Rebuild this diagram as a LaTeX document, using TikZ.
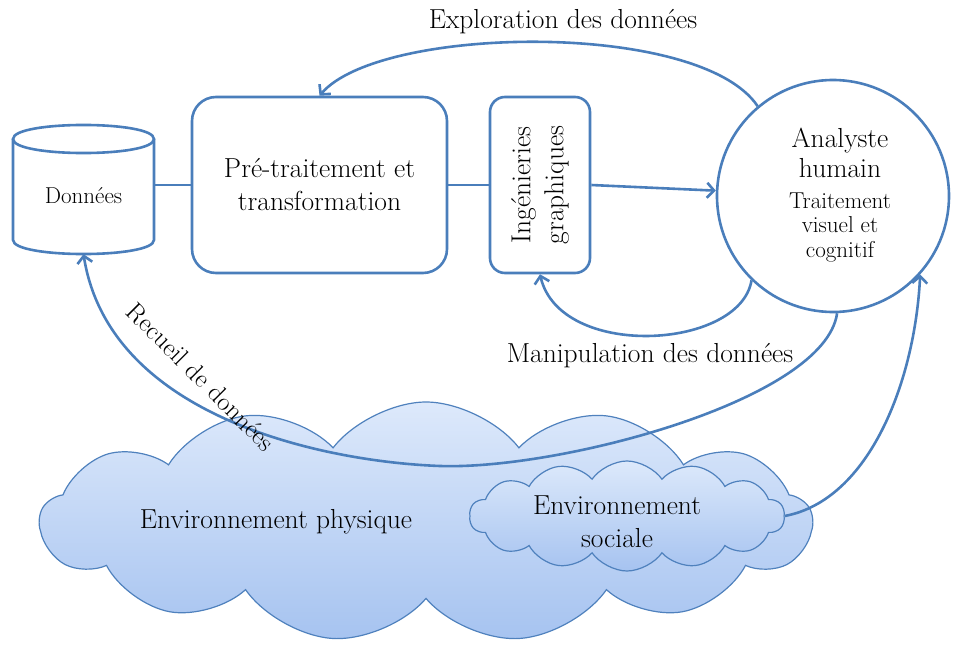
\documentclass[tikz,border=0pt]{standalone}
\usepackage{fontspec}
\usetikzlibrary{shapes.symbols,arrows.meta}
\definecolor{lineblue}{HTML}{4A7EBB}
\definecolor{cloudtop}{HTML}{DDE9FB}
\definecolor{cloudbot}{HTML}{A6C3F0}
\definecolor{cloudline}{HTML}{4F81BD}
\newcommand\mainfs{\fontsize{27.5}{33}\selectfont}
\newcommand\smallfs{\fontsize{23}{26}\selectfont}
\begin{document}
\begin{tikzpicture}[x=1pt,y=-1pt,
  conn/.style={draw=lineblue, line width=2.6pt},
  arr/.style={conn, -{Straight Barb[length=7pt,width=15pt]}},
  boxst/.style={draw=lineblue, line width=2.6pt, fill=white, align=center, font=\mainfs, inner sep=0pt},
  cloudst/.style={cloud, cloud ignores aspect, draw=cloudline, line width=1.2pt, top color=cloudtop, bottom color=cloudbot, inner sep=0pt},
  lbl/.style={font=\mainfs, inner sep=0pt, align=center},
  circlbl/.style={inner sep=0pt, anchor=base}]
\useasboundingbox (0,0) rectangle (953,650);

% clouds
\node[cloudst, cloud puffs=13, cloud puff arc=105, minimum width=772pt, minimum height=240pt] (phy) at (426,522) {};
\node[cloudst, cloud puffs=14, cloud puff arc=110, minimum width=315pt, minimum height=110pt] (soc) at (627,516) {};
\node[lbl] (lphy) at (276,522) {Environnement physique};
\node[lbl] (lsoc) at (617,522) {Environnement\\sociale};

% cylinder
\node[inner sep=0pt, minimum width=141pt, minimum height=116pt] (db) at (83.5,196) {};
\fill[white] (13,139) -- (13,240) .. controls (13,258.7) and (154,258.7) .. (154,240) -- (154,139) -- cycle;
\draw[conn] (13,139) -- (13,240) .. controls (13,258.7) and (154,258.7) .. (154,240) -- (154,139);
\draw[conn, fill=white] (13,139) .. controls (13,120.3) and (154,120.3) .. (154,139) .. controls (154,157.7) and (13,157.7) .. (13,139) -- cycle;
\node[font=\fontsize{23}{27}\selectfont] (dbt) at (db.center) {Données};

% boxes
\node[boxst, rounded corners=24pt, minimum width=255pt, minimum height=176pt] (pre) at (319.5,185) {Pré-traitement et\\transformation};
\node[boxst, rounded corners=15pt, minimum width=100pt, minimum height=176pt] (ing) at (540,185) {};
\node[lbl, rotate=90] (ingt) at (ing.center) {Ingénieries\\graphiques};
\node[draw=lineblue, line width=2.6pt, circle, fill=white, minimum size=232pt, inner sep=0pt] (circ) at (833,196) {};
\node[circlbl, font=\mainfs] (c1) at (840,148) {Analyste};
\node[circlbl, font=\mainfs] (c2) at (840,178) {humain};
\node[circlbl, font=\smallfs] (c3) at (840,208) {Traitement};
\node[circlbl, font=\smallfs] (c4) at (840,232) {visuel et};
\node[circlbl, font=\smallfs] (c5) at (840,257) {cognitif};

% connectors
\draw[conn] (db.east |- pre.west) -- (pre.west);
\draw[conn] (pre.east) -- (ing.west);
\draw[arr] (ing.east) -- (circ);
\draw[arr] (circ.130) .. controls (700,20) and (380,25) .. (pre.north);
\draw[arr] (circ.226) .. controls (740,350) and (560,360) .. (ing.south);
\draw[arr] (circ.272) .. controls (825,400) and (560,470) .. (440,466) .. controls (330,462) and (110,420) .. (db.south);
\draw[arr] (soc.east) .. controls (870,500) and (915,380) .. (circ.-42);

% labels
\node[lbl] (lexp) at (563,22) {Exploration des données};
\node[lbl] (lman) at (650,356) {Manipulation des données};
\node[lbl, rotate=-45, font=\fontsize{26}{30}\selectfont] (lrec) at (201,377) {Recueil de données};
\end{tikzpicture}
\end{document}
